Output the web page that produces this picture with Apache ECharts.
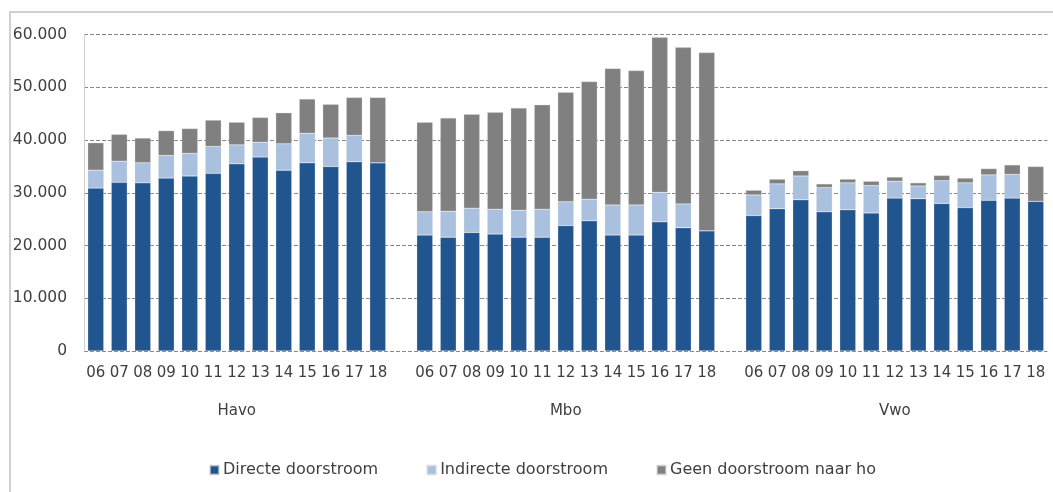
<!DOCTYPE html>
<html>
<head>
<meta charset="utf-8">
<script src="https://cdn.jsdelivr.net/npm/echarts@6/dist/echarts.min.js"></script>
<style>
html,body{margin:0;padding:0;background:#fff;}
#chart{width:1053px;height:492px;}
</style>
</head>
<body>
<div id="chart"></div>
<script>
// Years per group
const years = ['06','07','08','09','10','11','12','13','14','15','16','17','18'];
const groups = ['Havo','Mbo','Vwo'];
const legendNames = ['Directe doorstroom','Indirecte doorstroom','Geen doorstroom naar ho'];

// Values (number of students)
const havoDirect   = [30900,32000,31900,32800,33200,33700,35500,36800,34300,35700,35000,35900,35700];
const havoIndirect = [3400,4000,3800,4300,4300,5100,3600,2800,5000,5600,5400,5000,0];
const havoGeen     = [5200,5100,4700,4700,4700,5000,4300,4700,5900,6500,6400,7200,12400];

const mboDirect    = [22000,21600,22500,22200,21600,21600,23800,24700,22000,22000,24500,23400,22800];
const mboIndirect  = [4400,4900,4600,4700,5100,5300,4500,4100,5700,5700,5600,4500,0];
const mboGeen      = [17000,17700,17800,18400,19400,19800,20800,22300,25900,25500,29400,29700,33800];

const vwoDirect    = [25700,27000,28700,26400,26800,26200,29000,28900,28000,27200,28600,29000,28400];
const vwoIndirect  = [3900,4700,4500,4600,5100,5200,3200,2400,4300,4700,4800,4500,0];
const vwoGeen      = [900,900,1000,700,700,800,800,600,1000,900,1200,1800,6600];

// Build the combined category axis with one empty slot between groups
const sets = [
  [havoDirect, havoIndirect, havoGeen],
  [mboDirect, mboIndirect, mboGeen],
  [vwoDirect, vwoIndirect, vwoGeen]
];
const cats = [];
const groupCats = [];
const seriesData = [[],[],[]];
sets.forEach((s, gi) => {
  if (gi > 0) {
    cats.push(' ' + gi);
    groupCats.push(' ' + gi);
    seriesData.forEach(d => d.push('-'));
  }
  years.forEach((y, yi) => {
    cats.push(groups[gi] + '_' + y);
    groupCats.push(yi === 6 ? groups[gi] : groups[gi] + '_' + y);
    for (let k = 0; k < 3; k++) seriesData[k].push(s[k][yi]);
  });
});

const colors = ['#215590', '#A9C1DE', '#808080'];
const font = 'DejaVu Sans';
const textColor = '#404040';

const chart = echarts.init(document.getElementById('chart'), null, {renderer: 'canvas'});
chart.setOption({
  animation: false,
  backgroundColor: '#fff',
  textStyle: {fontFamily: font, color: textColor},
  graphic: [{
    type: 'rect',
    left: 7.5, top: 9.5,
    shape: {width: 1100, height: 520},
    style: {fill: 'none', stroke: '#d0d0d0', lineWidth: 2},
    silent: true,
    z: -10
  }],
  grid: {left: 84, right: 5.5, top: 34.7, bottom: 141, containLabel: false},
  legend: {
    data: legendNames,
    top: 457,
    left: 204,
    itemWidth: 9, itemHeight: 9,
    itemGap: 48,
    icon: 'rect',
    textStyle: {fontFamily: font, fontSize: 16, color: textColor, padding: [0, 0, 0, -1]}
  },
  xAxis: [{
    type: 'category',
    data: cats,
    axisLine: {show: false},
    axisTick: {show: false},
    axisLabel: {
      interval: 0,
      fontFamily: font, fontSize: 15, color: textColor, margin: 15,
      formatter: v => v.indexOf('_') >= 0 ? v.split('_')[1] : ''
    }
  }, {
    type: 'category',
    data: groupCats,
    position: 'bottom',
    offset: 38,
    axisLine: {show: false},
    axisTick: {show: false},
    axisLabel: {
      interval: 0,
      fontFamily: font, fontSize: 15, color: textColor, margin: 15,
      formatter: v => groups.indexOf(v) >= 0 ? v : ''
    }
  }],
  yAxis: {
    type: 'value',
    min: 0, max: 60000, interval: 10000,
    axisLine: {show: true, lineStyle: {color: '#d0d0d0', width: 1}},
    axisTick: {show: false},
    splitLine: {show: true, lineStyle: {color: '#888888', type: [4, 2], width: 1}},
    axisLabel: {
      fontFamily: font, fontSize: 15.5, color: textColor, margin: 17,
      formatter: v => v === 0 ? '0' : (v / 1000).toFixed(0) + '.000'
    }
  },
  series: legendNames.map((name, i) => ({
    name: name,
    type: 'bar',
    stack: 'total',
    xAxisIndex: 0,
    data: seriesData[i],
    barCategoryGap: '32%',
    itemStyle: {color: colors[i], borderColor: 'rgba(220,220,220,0.6)', borderWidth: 0.5}
  }))
});
</script>
</body>
</html>
